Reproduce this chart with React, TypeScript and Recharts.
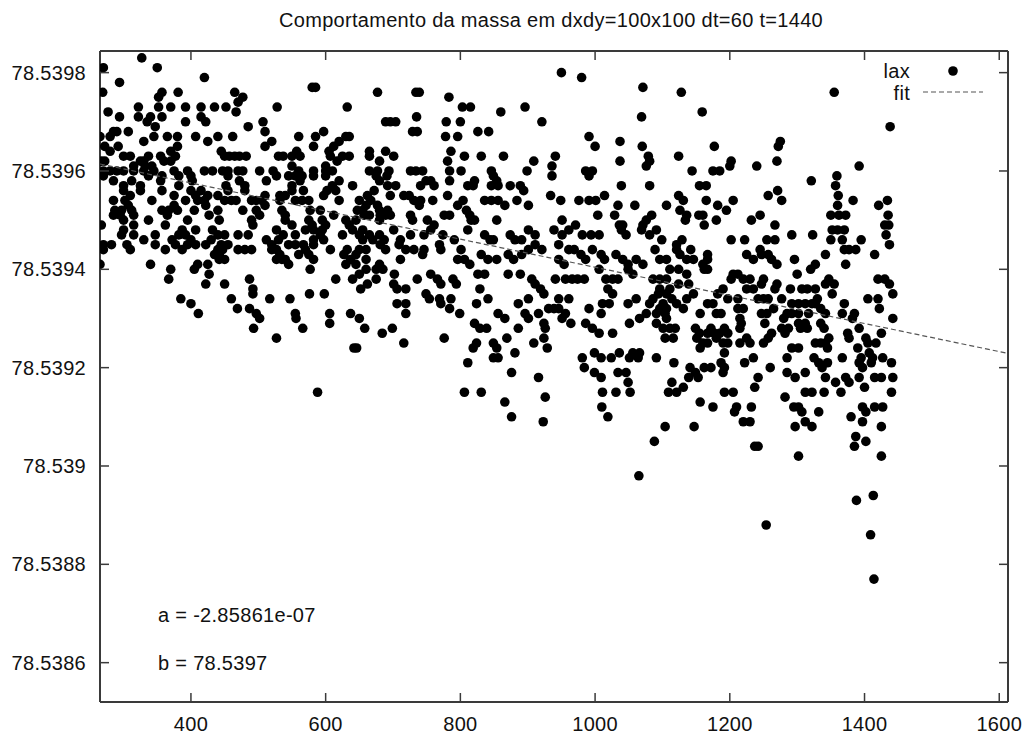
import { ScatterChart, Scatter, XAxis, YAxis } from "recharts";

// lax samples, one row per mass level: [dm, t, t, ...]
// mass = MASS_BASE + dm * 1e-5
const MASS_BASE = 78.538;

// t < ~690, upper band
const laxEarlyHigh: number[][] = [
  [183, 327],
  [181, 270, 350],
  [179, 420],
  [178, 294],
  [177, 580, 585],
  [176, 269, 357, 381, 465, 677],
  [175, 352, 477],
  [174, 470],
  [173, 322, 352, 370, 392, 415, 435, 452, 528, 632],
  [172, 277, 467],
  [171, 294, 322, 340, 357, 415],
  [170, 335, 392, 422, 507],
  [169, 347, 485],
  [168, 285, 290, 307, 510, 597],
  [167, 265, 280, 345, 365, 380, 407, 440, 462, 560, 585, 630, 635],
  [166, 330, 425, 520, 620],
  [165, 272, 292, 380, 510, 582, 612],
  [164, 280, 370, 445, 557, 605, 665],
  [163, 300, 310, 337, 355, 377, 450, 457, 465, 472, 482, 530, 537, 550, 562, 607, 625, 635, 665],
  [162, 267, 272, 325, 330, 360, 370, 617, 680],
  [161, 315, 332, 342, 550, 600],
  [160, 270, 280, 290, 300, 315, 330, 345, 375, 395, 420, 432, 447, 455, 470, 477, 502, 522, 560, 582, 600, 610, 665, 677],
  [159, 270, 337, 357, 382, 400, 455, 527, 545, 555, 565, 582, 600, 675],
  [158, 285, 312, 355, 402, 472, 512, 562, 620, 680],
  [157, 300, 325, 382, 452, 480, 550, 610, 640, 692],
  [156, 300, 325, 357, 400, 415, 455, 480, 550, 567, 602, 615, 672],
  [155, 310, 375, 407, 425, 440, 510, 532, 540, 597, 662],
  [154, 285, 302, 342, 392, 410, 420, 450, 460, 467, 490, 497, 505, 532, 555, 565, 575, 620, 650, 667],
  [153, 307, 375, 422, 510, 660, 677],
  [152, 287, 297, 312, 357, 367, 380, 405, 440, 477, 497, 535, 577, 592, 647, 655, 680, 692],
  [151, 285, 295, 315, 365, 427, 502, 540, 612, 657, 665],
  [150, 300, 337, 395, 442, 490, 540, 575, 595, 630, 645, 680],
  [149, 267, 315, 362, 492, 550, 580, 600, 635],
  [148, 300, 387, 407, 432, 527, 570, 582, 595, 640, 655],
  [147, 297, 315, 347, 382, 392, 440, 450, 470, 485, 537, 555, 592, 625, 650, 665, 680],
  [146, 330, 372, 400, 430, 512, 530, 582, 597, 655, 670, 687],
  [145, 270, 282, 305, 347, 377, 395, 407, 422, 445, 455, 520, 545, 555, 567, 582],
  [144, 270, 310, 362, 387, 440, 447, 470, 480, 490, 520, 527, 570, 607, 632, 650, 660],
  [143, 435, 442, 532, 560, 575, 627, 645],
  [142, 442, 450, 527, 535, 540, 582, 637, 660],
  [141, 265, 340, 410, 425, 545, 630, 645, 680],
  [140, 370, 405, 577, 660, 675, 685],
];

// t < ~700, lower tail
const laxEarlyLow: number[][] = [
  [139, 427, 650, 702],
  [138, 367, 487, 615, 640, 675],
  [137, 422, 450, 662],
  [136, 492, 652],
  [135, 492, 576, 598],
  [134, 385, 460, 517, 547],
  [133, 400],
  [132, 469, 487],
  [131, 411, 497, 555, 606, 637],
  [130, 502, 556, 650],
  [129, 606],
  [128, 493, 566, 658],
  [127, 684],
  [126, 527],
  [124, 642, 646],
  [115, 588],
];

// 680 < t < 1160, upper band
const laxMidHigh: number[][] = [
  [180, 950],
  [179, 980],
  [177, 1071],
  [176, 734, 739, 1128],
  [175, 783],
  [173, 803, 815, 896],
  [172, 860, 1159],
  [171, 735, 1069],
  [170, 689, 696, 704, 779, 800, 921],
  [168, 729, 736, 826, 842],
  [167, 778, 796, 991],
  [166, 1037],
  [165, 1000, 1070],
  [164, 689, 786],
  [163, 701, 806, 831, 864, 941, 1079, 1124],
  [162, 781, 909, 1037, 1081],
  [161, 936, 1076],
  [160, 694, 726, 734, 744, 784, 801, 846, 899, 986, 996, 1144],
  [159, 691, 849, 936, 991],
  [158, 749, 756, 784, 821, 854],
  [157, 704, 741, 761, 811, 819, 846, 856, 874, 889, 1039, 1081],
  [156, 894],
  [155, 696, 716, 724, 781, 934, 1014, 1124],
  [154, 731, 741, 759, 804, 836, 846, 856, 884, 949, 976, 991, 1001, 1131],
  [153, 739, 796, 866, 901, 1034, 1059, 1106],
  [152, 809, 1126],
  [151, 681, 689, 696, 726, 776, 784, 814, 1004, 1029, 1084, 1136, 1154],
  [150, 729, 751, 816, 821, 854, 951, 1076, 1134],
  [149, 761, 971, 1036, 1041, 1071],
  [148, 701, 756, 811, 901, 939, 961, 1039, 1069, 1091],
  [147, 726, 746, 774, 836, 874, 911, 951, 981, 994, 1006, 1046, 1081],
  [146, 711, 791, 844, 849, 881, 891, 1099, 1129],
  [145, 681, 709, 769, 911, 946, 1121],
  [144, 689, 719, 731, 746, 771, 801, 901, 921, 961, 969, 996, 1089, 1121],
  [143, 744, 831, 871, 891, 979, 1009, 1031, 1126],
  [142, 711, 796, 806, 841, 854, 879, 946, 986, 1014, 1041, 1061, 1096, 1106, 1136, 1146],
  [141, 814, 954, 1049, 1071],
];

// 695 < t < 1160, lower tail
const laxMidLow: number[][] = [
  [140, 1006, 1049, 1111, 1124],
  [139, 756, 826, 836, 871, 889, 1056, 1136],
  [138, 736, 766, 789, 906, 941, 956, 966, 974, 984, 1016, 1026, 1034, 1086, 1096, 1106],
  [137, 701, 771, 794, 911, 1124, 1139],
  [136, 706, 719, 829, 919, 1019, 1096, 1111],
  [135, 749, 924, 1026, 1094, 1106, 1146],
  [134, 754, 769, 786, 841, 901, 946, 961, 1061, 1086, 1114, 1136],
  [133, 706, 719, 771, 824, 886, 1011, 1021, 1049, 1081, 1101, 1121],
  [132, 784, 931, 939, 946, 991, 1096, 1106, 1131],
  [131, 719, 799, 856, 896, 916, 956, 1009, 1076, 1091, 1104, 1156],
  [130, 866, 901, 951, 1066, 1106],
  [129, 821, 924, 964, 986, 1051, 1091],
  [128, 699, 829, 839, 886, 926, 996, 1101, 1111, 1119, 1149],
  [127, 1006, 1026],
  [126, 776, 869, 924, 1104, 1116, 1151],
  [125, 716, 824, 849, 909],
  [124, 819, 854, 929, 1156],
  [123, 881, 999, 1036, 1056, 1066],
  [122, 849, 856, 981, 1009, 1024, 1051, 1064, 1091],
  [121, 811, 1117],
  [120, 984, 1141],
  [119, 876, 999, 1034, 1046, 1149],
  [118, 916, 1009, 1139, 1153],
  [117, 1049, 1114],
  [116, 1131],
  [115, 806, 831, 1011, 1031, 1052, 1109, 1121],
  [114, 926],
  [113, 866, 1156],
  [112, 1010],
  [110, 876, 1019],
  [109, 923],
  [108, 1104, 1147],
  [105, 1088],
  [98, 1065],
];

// t > 1140, upper band
const laxLateHigh: number[][] = [
  [176, 1355],
  [169, 1438],
  [166, 1275],
  [165, 1177, 1272],
  [162, 1202, 1270],
  [161, 1200, 1240, 1392],
  [160, 1175, 1185],
  [159, 1359],
  [158, 1321],
  [157, 1155, 1165, 1357],
  [156, 1271],
  [155, 1257, 1361],
  [154, 1165, 1205, 1277, 1383, 1434],
  [153, 1182, 1360, 1421],
  [152, 1195],
  [151, 1160, 1245, 1350, 1362, 1372, 1435],
  [150, 1180, 1232],
  [149, 1162, 1267, 1430, 1436],
  [148, 1352, 1360, 1370],
  [147, 1292, 1323, 1432],
  [146, 1202, 1222, 1255, 1267, 1350, 1367, 1395],
  [145, 1437],
  [144, 1142, 1245, 1370, 1377, 1387],
  [143, 1167, 1225, 1247, 1257, 1342, 1415],
  [142, 1167, 1235, 1262, 1296],
  [141, 1160, 1270, 1327, 1372],
];

// t > 1140, lower tail
const laxLateLow: number[][] = [
  [140, 1162, 1167, 1320],
  [139, 1205, 1212, 1300],
  [138, 1202, 1220, 1230, 1250, 1347, 1420, 1430],
  [137, 1247, 1270, 1342, 1355, 1437],
  [136, 1190, 1225, 1235, 1267, 1290, 1307, 1315, 1327],
  [135, 1182, 1352, 1442],
  [134, 1197, 1212, 1242, 1250, 1257, 1277, 1330, 1405, 1420],
  [133, 1167, 1175, 1292, 1302, 1312, 1322, 1327, 1370],
  [132, 1212, 1220, 1265, 1335, 1422],
  [131, 1180, 1187, 1247, 1255, 1285, 1292, 1302, 1317, 1342, 1367, 1385],
  [130, 1215, 1280, 1382, 1442],
  [129, 1217, 1252, 1302, 1312, 1335],
  [128, 1172, 1192, 1215, 1277, 1287, 1305, 1315, 1340, 1392],
  [127, 1155, 1167, 1177, 1185, 1197, 1262, 1282, 1375, 1425],
  [126, 1180, 1225, 1257, 1347, 1377, 1402],
  [125, 1160, 1167, 1190, 1197, 1215, 1230, 1250, 1327, 1335, 1342, 1405, 1417],
  [124, 1292, 1302, 1345, 1390],
  [123, 1192, 1407],
  [122, 1235, 1285, 1325, 1367, 1395, 1412, 1427],
  [121, 1187, 1222, 1332, 1345, 1392, 1410, 1440],
  [120, 1162, 1172, 1192, 1260, 1337, 1397],
  [119, 1190, 1285, 1312],
  [118, 1242, 1297, 1342, 1372, 1392, 1415, 1425, 1442],
  [117, 1357, 1377],
  [116, 1237, 1400],
  [115, 1192, 1205, 1312, 1322, 1340, 1365, 1440],
  [114, 1282],
  [112, 1175, 1210, 1232, 1295, 1302, 1397, 1415, 1427],
  [111, 1207, 1307, 1332, 1402],
  [110, 1380],
  [109, 1220, 1230, 1312, 1397],
  [108, 1297, 1322, 1425],
  [106, 1387],
  [105, 1402],
  [104, 1237, 1242, 1385],
  [102, 1302, 1425],
  [94, 1413],
  [93, 1388],
  [88, 1254],
  [86, 1409],
  [77, 1414],
];

const xTicks = [400, 600, 800, 1000, 1200, 1400, 1600];
const yTicks = [78.5386, 78.5388, 78.539, 78.5392, 78.5394, 78.5396, 78.5398];
const xDomain = [265, 1613];
const yDomain = [78.53852, 78.539844];

// linear fit m(t) = a*t + b
const fitA = -2.85861e-7;
const fitB = 78.53969;

const FONT = '"Liberation Sans", Arial, Helvetica, sans-serif';
const FRAME = "#3a3a3a";
const INK = "#111";
const FIT_STROKE = "#555";

const rows = [laxEarlyHigh, laxEarlyLow, laxMidHigh, laxMidLow, laxLateHigh, laxLateLow].flat();
const laxPoints = rows.flatMap(([dm, ...ts]) =>
  ts.map((t) => ({ t, m: +(MASS_BASE + dm * 1e-5).toFixed(5) }))
);

// the fit is drawn on the mirrored (top/right) axes, same domains
const fitPoints = xDomain.map((t) => ({ t, m: fitA * t + fitB }));

// gnuplot-style "%g": -2.85861e-07
function fmtExp(v: number) {
  const [mant, exp] = v.toExponential(5).split("e");
  return `${mant}e${exp[0]}${exp.slice(1).padStart(2, "0")}`;
}

const textStyle = { fontFamily: FONT, fontSize: 20, letterSpacing: 0.3, fill: INK };

function BottomTick(p: any) {
  return (
    <g>
      <line x1={p.x} y1={p.y} x2={p.x} y2={p.y - 9} stroke={FRAME} strokeWidth={1.5} />
      <text x={p.x} y={p.y + 29} textAnchor="middle" style={textStyle}>
        {p.payload.value}
      </text>
    </g>
  );
}

function TopTick(p: any) {
  return <line x1={p.x} y1={p.y} x2={p.x} y2={p.y + 9} stroke={FRAME} strokeWidth={1.5} />;
}

function LeftTick(p: any) {
  return (
    <g>
      <line x1={p.x} y1={p.y} x2={p.x + 9} y2={p.y} stroke={FRAME} strokeWidth={1.5} />
      <text x={p.x - 14} y={p.y + 7} textAnchor="end" style={textStyle}>
        {String(p.payload.value)}
      </text>
    </g>
  );
}

function RightTick(p: any) {
  return <line x1={p.x} y1={p.y} x2={p.x - 9} y2={p.y} stroke={FRAME} strokeWidth={1.5} />;
}

const dot = (p: any) => <circle cx={p.cx} cy={p.cy} r={4.8} fill="#000" />;
const noDot = () => <g />;

export default function App() {
  const axisLine = { stroke: FRAME, strokeWidth: 2 };
  return (
    <div style={{ position: "relative", width: 1032, height: 736, background: "#fff" }}>
      <style>{"body{margin:0}"}</style>
      <ScatterChart width={1032} height={736} margin={{ top: 50, right: 23, bottom: 0, left: 8 }}>
        <XAxis
          xAxisId="b"
          type="number"
          dataKey="t"
          domain={xDomain}
          ticks={xTicks}
          allowDataOverflow
          height={34}
          tickSize={0}
          tickMargin={0}
          axisLine={axisLine}
          tickLine={false}
          tick={(p: any) => <BottomTick {...p} />}
        />
        <XAxis
          xAxisId="top"
          orientation="top"
          type="number"
          dataKey="t"
          domain={xDomain}
          ticks={xTicks}
          allowDataOverflow
          height={1}
          tickSize={0}
          tickMargin={0}
          axisLine={axisLine}
          tickLine={false}
          tick={(p: any) => <TopTick {...p} />}
        />
        <YAxis
          yAxisId="l"
          type="number"
          dataKey="m"
          domain={yDomain}
          ticks={yTicks}
          allowDataOverflow
          width={92}
          tickSize={0}
          tickMargin={0}
          axisLine={axisLine}
          tickLine={false}
          tick={(p: any) => <LeftTick {...p} />}
        />
        <YAxis
          yAxisId="r"
          orientation="right"
          type="number"
          dataKey="m"
          domain={yDomain}
          ticks={yTicks}
          allowDataOverflow
          width={1}
          tickSize={0}
          tickMargin={0}
          axisLine={axisLine}
          tickLine={false}
          tick={(p: any) => <RightTick {...p} />}
        />
        <Scatter
          name="lax"
          data={laxPoints}
          xAxisId="b"
          yAxisId="l"
          shape={dot}
          isAnimationActive={false}
        />
        <Scatter
          name="fit"
          data={fitPoints}
          xAxisId="top"
          yAxisId="r"
          shape={noDot}
          line={{ stroke: FIT_STROKE, strokeWidth: 1.2, strokeDasharray: "5 3" }}
          isAnimationActive={false}
        />
      </ScatterChart>

      <svg
        width={1032}
        height={736}
        style={{ position: "absolute", left: 0, top: 0, pointerEvents: "none" }}
      >
        <text x={551} y={27} textAnchor="middle" style={textStyle}>
          Comportamento da massa em dxdy=100x100 dt=60 t=1440
        </text>

        {/* key */}
        <text x={910} y={78} textAnchor="end" style={textStyle}>lax</text>
        <circle cx={953} cy={71} r={4.8} fill="#000" />
        <text x={910} y={100} textAnchor="end" style={textStyle}>fit</text>
        <line x1={923} y1={92} x2={983} y2={92} stroke={FIT_STROKE} strokeWidth={1.2} strokeDasharray="5 3" />

        <text x={158} y={622} style={textStyle}>a = {fmtExp(fitA)}</text>
        <text x={158} y={670} style={textStyle}>b = {fitB.toPrecision(6)}</text>
      </svg>
    </div>
  );
}
